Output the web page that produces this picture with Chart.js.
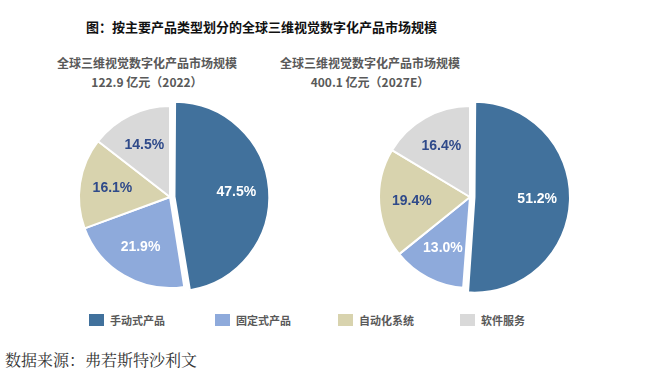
<!DOCTYPE html>
<html lang="zh">
<head>
  <meta charset="UTF-8">
  <title>全球三维视觉数字化产品市场规模</title>
  <script src="https://cdn.jsdelivr.net/npm/chart.js"></script>
  <style>
    body {
      margin: 0;
      width: 660px;
      height: 377px;
      background: #fff;
      position: relative;
      overflow: hidden;
      font-family: "Noto Sans CJK SC", "Noto Sans", sans-serif;
    }
    .title {
      position: absolute;
      left: 86px;
      top: 17px;
      font-size: 13px;
      font-weight: bold;
      color: #111;
      white-space: nowrap;
      line-height: 20px;
    }
    .sub {
      position: absolute;
      top: 53px;
      width: 220px;
      text-align: center;
      font-size: 12px;
      font-weight: bold;
      color: #595959;
      line-height: 19px;
    }
    canvas {
      position: absolute;
    }
    .legend-item {
      position: absolute;
      top: 312px;
      display: flex;
      align-items: center;
      font-size: 11px;
      font-weight: bold;
      color: #595959;
      white-space: nowrap;
    }
    .legend-color {
      width: 15px;
      height: 12px;
      margin-right: 6px;
    }
    .source {
      position: absolute;
      left: 5px;
      top: 348px;
      font-size: 16px;
      color: #333;
      font-family: "Noto Serif CJK SC", "Noto Sans CJK SC", serif;
      line-height: 24px;
    }
  </style>
</head>
<body>
  <div class="title">图：按主要产品类型划分的全球三维视觉数字化产品市场规模</div>
  <div class="sub" style="left:37px">全球三维视觉数字化产品市场规模<br>122.9 亿元（2022）</div>
  <div class="sub" style="left:260px">全球三维视觉数字化产品市场规模<br>400.1 亿元（2027E）</div>

  <canvas id="pie2022" width="220" height="220" style="left:60px; top:87px"></canvas>
  <canvas id="pie2027" width="220" height="220" style="left:360px; top:87px"></canvas>

  <div id="legend"></div>
  <div class="source">数据来源：弗若斯特沙利文</div>

  <script>
    const categories = ['手动式产品', '固定式产品', '自动化系统', '软件服务'];
    const share2022 = [47.5, 21.9, 16.1, 14.5];
    const share2027 = [51.2, 13.0, 19.4, 16.4];
    const colors = ['#41719c', '#8eaadb', '#d8d3ae', '#d9d9d9'];
    const labelColors = ['#ffffff', '#ffffff', '#2f4a8a', '#2f4a8a'];
    const legendX = [89, 215, 338, 460];

    // percentage labels drawn inside each slice
    const sliceLabels = {
      id: 'sliceLabels',
      afterDatasetsDraw(chart) {
        const { ctx } = chart;
        const ds = chart.data.datasets[0];
        chart.getDatasetMeta(0).data.forEach((arc, i) => {
          const { x, y, startAngle, endAngle, outerRadius, circumference } =
            arc.getProps(['x', 'y', 'startAngle', 'endAngle', 'outerRadius', 'circumference'], true);
          const mid = (startAngle + endAngle) / 2;
          // same shift the arc element applies for its offset
          const o = (ds.offset[i] || 0) / 4;
          const shift = o * (2 - Math.sin(Math.min(Math.PI, circumference)));
          const r = outerRadius * 0.64 + shift;
          ctx.save();
          ctx.font = 'bold 14px "Liberation Sans", Arial, sans-serif';
          ctx.fillStyle = labelColors[i];
          ctx.textAlign = 'center';
          ctx.textBaseline = 'middle';
          ctx.fillText(ds.data[i].toFixed(1) + '%', x + Math.cos(mid) * r, y + Math.sin(mid) * r);
          ctx.restore();
        });
      }
    };

    function makePie(id, values) {
      return new Chart(document.getElementById(id).getContext('2d'), {
        type: 'pie',
        data: {
          labels: categories,
          datasets: [{
            data: values,
            backgroundColor: colors,
            borderColor: '#ffffff',
            borderWidth: 2,
            offset: [18, 0, 0, 0]
          }]
        },
        options: {
          responsive: false,
          animation: false,
          radius: 91,
          layout: { padding: 0 },
          plugins: {
            legend: { display: false },
            tooltip: { enabled: false }
          }
        },
        plugins: [sliceLabels]
      });
    }

    makePie('pie2022', share2022);
    makePie('pie2027', share2027);

    const legend = document.getElementById('legend');
    categories.forEach((name, i) => {
      const item = document.createElement('div');
      item.className = 'legend-item';
      item.style.left = legendX[i] + 'px';
      const box = document.createElement('div');
      box.className = 'legend-color';
      box.style.backgroundColor = colors[i];
      const label = document.createElement('span');
      label.textContent = name;
      item.appendChild(box);
      item.appendChild(label);
      legend.appendChild(item);
    });
  </script>
</body>
</html>
